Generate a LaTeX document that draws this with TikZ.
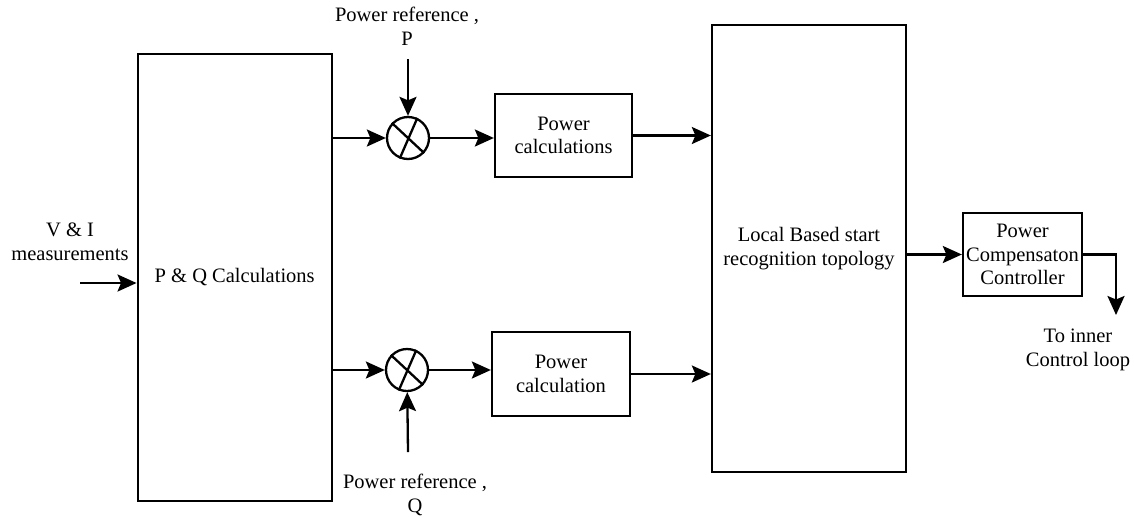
\documentclass[tikz,border=0pt]{standalone}
\usepackage{fontspec}
\setmainfont{Liberation Serif}
\newfontfamily\blockfont{Liberation Serif}
\usetikzlibrary{arrows.meta,calc}

\tikzset{
  lbl/.style={font=\blockfont\fontsize{20.5pt}{23.5pt}\selectfont, align=center, inner sep=0pt},
  blockbox/.style={draw, line width=2.3pt, rectangle, inner sep=0pt, lbl},
  mixer/.style={draw, line width=2.3pt, circle, minimum size=42pt, inner sep=0pt},
  arr/.style={line width=2.3pt, -{Stealth[length=19pt, width=17pt, inset=3.5pt]}},
  wire/.style={line width=2.3pt}
}

\begin{document}
\begin{tikzpicture}[x=1pt, y=-1pt]
  \useasboundingbox (0,0) rectangle (1134,517);
  \fill[white] (0,0) rectangle (1134,517);

  % blocks
  \node[blockbox, minimum width=194pt, minimum height=447pt] (pq) at (234.7,277.5) {P \& Q Calculations};
  \node[blockbox, minimum width=137pt, minimum height=83pt] (pc1) at (563.5,135.5) {Power\\calculations};
  \node[blockbox, minimum width=138pt, minimum height=84pt] (pc2) at (561,374) {Power\\calculation};
  \node[blockbox, minimum width=194pt, minimum height=447pt] (lb) at (809,248.5) {Local Based start\\recognition topology};
  \node[blockbox, minimum width=119pt, minimum height=83pt] (pcc) at (1022.5,254.5) {Power\\Compensaton\\Controller};

  % multiplier junctions
  \node[mixer] (c1) at (408,138) {};
  \node[mixer] (c2) at (407,370) {};
  \draw[wire] (c1.137) -- (c1.-43) (c1.65) -- (c1.248);
  \draw[wire] (c2.137) -- (c2.-43) (c2.65) -- (c2.248);

  % text labels
  \node[lbl] (vi) at (70,242) {V \& I\\measurements};
  \node[lbl] (refp) at (407,26.5) {Power reference ,\\P};
  \node[lbl] (refq) at (415,495) {Power reference ,\\Q};
  \node[lbl] (inner) at (1078,350) {To inner\\Control loop};

  % free ends
  \coordinate (vin) at (80,283);
  \coordinate (pin) at (408,59);
  \coordinate (qin) at (408,452);
  \coordinate (outend) at (1116,315);

  % connectors
  \draw[arr] (vin) -- (pq.west |- vin);
  \draw[arr] (pq.east |- c1) -- (c1);
  \draw[arr] (pin) -- (c1);
  \draw[arr] (c1.east) -- (pc1.west |- c1.east);
  \draw[arr] (pc1.east) -- (pc1.east -| lb.west);
  \draw[arr] (pq.east |- c2) -- (c2);
  \draw[arr] (qin) -- (c2);
  \draw[arr] (c2.east) -- (pc2.west |- c2.east);
  \draw[arr] (pc2.east) -- (pc2.east -| lb.west);
  \draw[arr] (pcc.west -| lb.east) -- (pcc.west);
  \draw[arr] (pcc.east) -- (pcc.east -| outend) -- (outend);
\end{tikzpicture}
\end{document}
